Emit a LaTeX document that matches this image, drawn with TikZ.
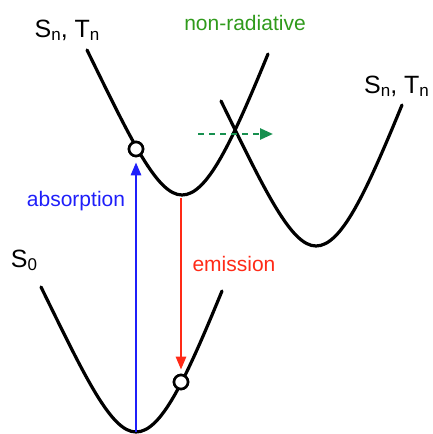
\documentclass[tikz,border=0pt]{standalone}
\usepackage{fontspec}
\setmainfont{Liberation Sans}
\usetikzlibrary{arrows.meta,positioning}
\definecolor{absblue}{HTML}{1F1FFA}
\definecolor{emred}{HTML}{FF2A17}
\definecolor{nrgreen}{HTML}{2F9A1B}
\definecolor{nrarrow}{HTML}{17904F}
\newcommand{\statesub}[2]{#1\raisebox{-0.12em}{\fontsize{17}{17}\selectfont #2}}
\tikzset{
  wellline/.style={line width=3.2pt, draw=black, line cap=round},
  dot/.style={circle, draw=black, line width=2.6pt, fill=white,
              minimum size=14pt, inner sep=0pt},
  lbl/.style={inner sep=0pt, anchor=base, font=\fontsize{21}{21}\selectfont},
  statelbl/.style={inner sep=0pt, anchor=base, font=\fontsize{25}{25}\selectfont},
  absarr/.style={-{Triangle[length=13pt,width=10pt]}, line width=2.8pt, color=absblue},
  emarr/.style={-{Triangle[length=13pt,width=10pt]}, line width=2.6pt, color=emred},
  nrarr/.style={-{Triangle[length=13pt,width=11pt]}, line width=2.6pt, color=nrarrow,
                dash pattern=on 6pt off 5pt},
  well/.pic={\draw[wellline] (-95,145) .. controls (-50.9,55) and (-25,0) .. (0,0)
                .. controls (25,0) and (49,51) .. (86,141);}}

\begin{document}
\begin{tikzpicture}[x=1pt, y=1pt]
  \useasboundingbox (0,0) rectangle (432,434);
  % potential wells
  \coordinate (s0min) at (136,2);
  \coordinate (snmin) at (182,239);
  \coordinate (snbmin) at (316,188);
  \pic at (s0min) {well};
  \pic at (snmin) {well};
  \pic at (snbmin) {well};
  \coordinate (emtop) at (181,236);
  \coordinate (nrstart) at (198,300);
  \coordinate (nrend) at (273,300);
  % transitions
  \node[dot] (exc) at (136,285) {};
  \node[dot] (gnd) at (181,52) {};
  \draw[absarr, shorten >=5pt] (s0min) -- (exc.south);
  \draw[emarr, shorten >=4pt] (emtop) -- (gnd.north);
  \draw[nrarr] (nrstart) -- (nrend);
  \node[dot] at (exc) {};
  \node[dot] at (gnd) {};
  % labels
  \node[statelbl] (sntl) at (67,396) {\statesub{S}{n}, \statesub{T}{n}};
  \node[statelbl, anchor=base west] (sntr) at (364,340) {\statesub{S}{n}, \statesub{T}{n}};
  \node[statelbl] (s0) at (24,166) {\statesub{S}{0}};
  \node[lbl, text=nrgreen] (nonrad) at (245,403) {non-radiative};
  \node[lbl, text=absblue] (abs) at (76,227) {absorption};
  \node[lbl, text=emred] (em) at (234,162) {emission};
\end{tikzpicture}
\end{document}
